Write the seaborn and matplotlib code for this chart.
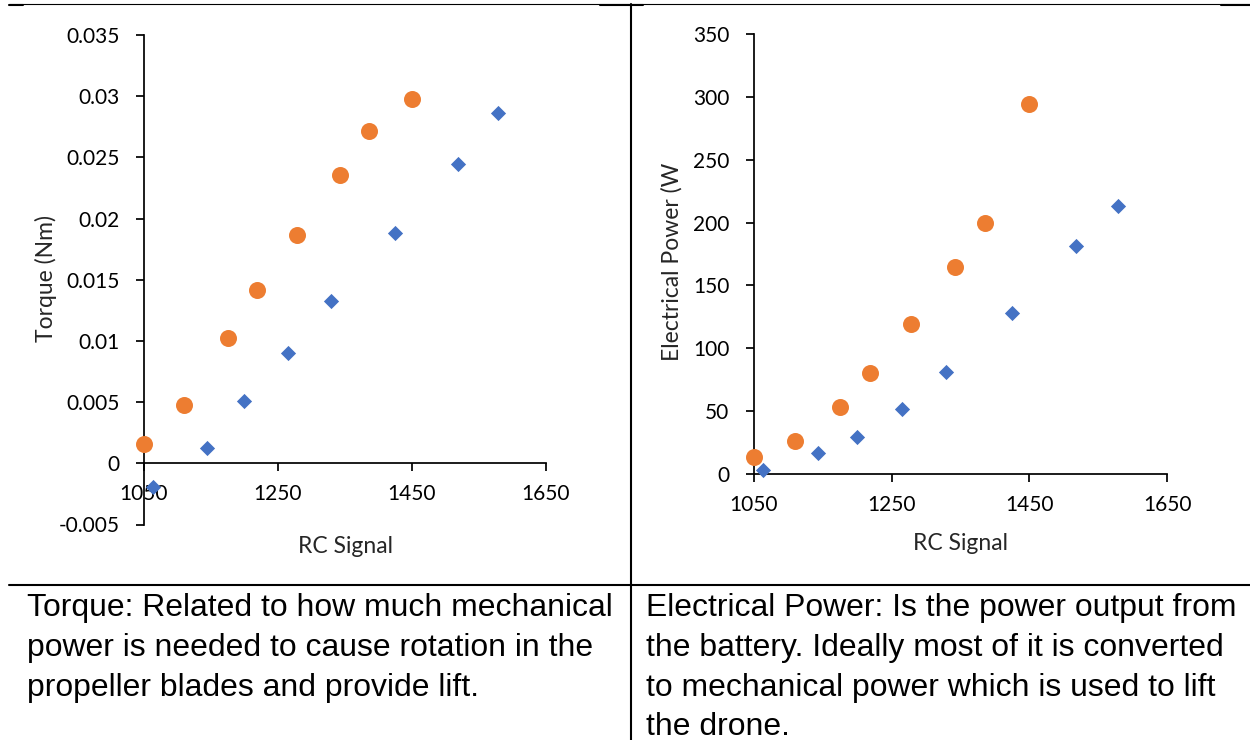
import matplotlib
matplotlib.use("Agg")
import matplotlib.pyplot as plt
from matplotlib.lines import Line2D
from matplotlib.ticker import FixedLocator, FuncFormatter
import seaborn as sns

# Test series A (orange circles)
rc_a = [1050, 1110, 1175, 1218, 1278, 1342, 1386, 1450]
torque_a = [0.00155, 0.0048, 0.01024, 0.01413, 0.01863, 0.02355, 0.02717, 0.02974]
power_a = [13.0, 26.3, 53.4, 80.0, 119.2, 164.9, 199.7, 294.4]

# Test series B (blue diamonds)
rc_b = [1063, 1144, 1200, 1265, 1329, 1424, 1518, 1579]
torque_b = [-0.0019, 0.00123, 0.00511, 0.00904, 0.01324, 0.01884, 0.02448, 0.02864]
power_b = [2.7, 16.2, 29.5, 51.8, 80.8, 128.2, 181.3, 213.0]

# Axis ticks
rc_ticks = [1050, 1250, 1450, 1650]
torque_ticks = [-0.005, 0, 0.005, 0.01, 0.015, 0.02, 0.025, 0.03, 0.035]
power_ticks = [0, 50, 100, 150, 200, 250, 300, 350]

x_title = "RC Signal"
torque_title = "Torque (Nm)"
power_title = "Electrical Power (W"

left_note = [
    "Torque: Related to how much mechanical",
    "power is needed to cause rotation in the",
    "propeller blades and provide lift.",
]
right_note = [
    "Electrical Power: Is the power output from",
    "the battery. Ideally most of it is converted",
    "to mechanical power which is used to lift",
    "the drone.",
]

ORANGE = "#ED7D31"
BLUE = "#4472C4"

sns.set_style("ticks")
plt.rcParams["font.family"] = ["Lato", "DejaVu Sans"]
plt.rcParams["axes.unicode_minus"] = False

W, H = 1250, 740
fig = plt.figure(figsize=(W / 100, H / 100), dpi=100)
fig.patch.set_facecolor("white")


def px_axes(left, top, right, bottom):
    return fig.add_axes([left / W, 1 - bottom / H, (right - left) / W, (bottom - top) / H])


def style_axes(ax, yticks, ylim, fmt):
    ax.set_xlim(1050, 1650)
    ax.set_ylim(*ylim)
    ax.xaxis.set_major_locator(FixedLocator(rc_ticks))
    ax.yaxis.set_major_locator(FixedLocator(yticks))
    ax.yaxis.set_major_formatter(FuncFormatter(fmt))
    ax.xaxis.set_major_formatter(FuncFormatter(lambda v, p: f"{v:.0f}"))
    for side in ("top", "right"):
        ax.spines[side].set_visible(False)
    ax.spines["bottom"].set_position(("data", 0))
    for side in ("left", "bottom"):
        ax.spines[side].set_linewidth(1.25)
        ax.spines[side].set_color("black")
    ax.tick_params(axis="both", direction="out", length=6, width=1.25,
                   color="black", labelsize=15, labelcolor="black")
    ax.tick_params(axis="x", pad=9)
    ax.tick_params(axis="y", pad=11.5)
    ax.set_facecolor("none")
    ax.grid(False)


# Torque chart
ax1 = px_axes(144, 35, 546, 524.5)
sns.scatterplot(x=rc_a, y=torque_a, ax=ax1, color=ORANGE, marker="o", s=150,
                linewidth=0, zorder=3, clip_on=False)
sns.scatterplot(x=rc_b, y=torque_b, ax=ax1, color=BLUE, marker="D", s=60,
                linewidth=0, zorder=3, clip_on=False)
style_axes(ax1, torque_ticks, (-0.005, 0.035), lambda v, p: f"{v:g}")
ax1.set_xlabel(x_title, fontsize=16.5, va="center")
ax1.xaxis.set_label_coords(0.5, (524.5 - 546.5) / 489.5)
ax1.set_ylabel(torque_title, fontsize=16.5, va="center")
ax1.yaxis.set_label_coords((46 - 144) / 402, (524.5 - 278) / 489.5)

# Electrical power chart
ax2 = px_axes(753.7, 34.2, 1167.3, 473.7)
sns.scatterplot(x=rc_a, y=power_a, ax=ax2, color=ORANGE, marker="o", s=150,
                linewidth=0, zorder=3, clip_on=False)
sns.scatterplot(x=rc_b, y=power_b, ax=ax2, color=BLUE, marker="D", s=60,
                linewidth=0, zorder=3, clip_on=False)
style_axes(ax2, power_ticks, (0, 350), lambda v, p: f"{v:.0f}")
ax2.set_xlabel(x_title, fontsize=16.5, va="center")
ax2.xaxis.set_label_coords(0.5, (473.7 - 544) / 439.5)
ax2.set_ylabel(power_title, fontsize=16.5, va="center")
ax2.yaxis.set_label_coords((672 - 753.7) / 413.6, (473.7 - 262) / 439.5)

# Table borders
def hline(y, x0, x1, lw):
    fig.add_artist(Line2D([x0 / W, x1 / W], [1 - y / H, 1 - y / H],
                          color="black", linewidth=lw, transform=fig.transFigure))


def vline(x, y0, y1, lw):
    fig.add_artist(Line2D([x / W, x / W], [1 - y0 / H, 1 - y1 / H],
                          color="black", linewidth=lw, transform=fig.transFigure))


hline(4.3, 9, 1250, 0.8)
hline(4.8, 9, 23, 1.5)
hline(4.8, 600, 643, 1.5)
hline(4.8, 1221, 1250, 1.5)
vline(631, 4, 740, 1.5)
hline(585, 9, 1250, 1.5)

# Cell notes
note_font = dict(family=["Liberation Sans", "DejaVu Sans"], fontsize=22.95,
                 color="black", va="baseline", ha="left")
baselines = [616, 656, 696, 735]
for line, yb in zip(left_note, baselines):
    fig.text(27 / W, 1 - yb / H, line, **note_font)
for line, yb in zip(right_note, baselines):
    fig.text(646 / W, 1 - yb / H, line, **note_font)

fig.savefig("out.png", dpi=100, facecolor="white")
